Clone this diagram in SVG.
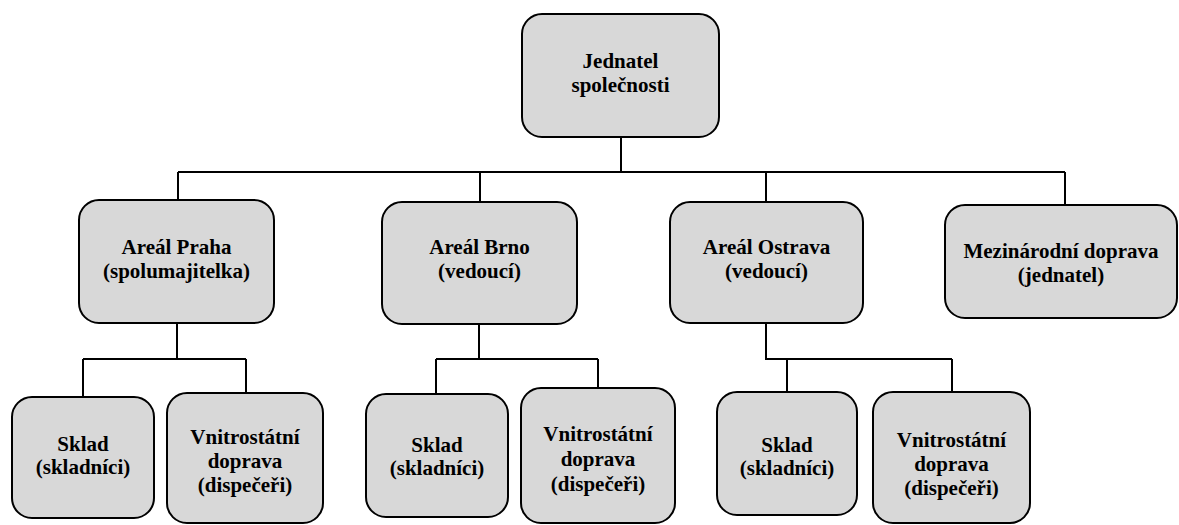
<svg xmlns="http://www.w3.org/2000/svg" width="1179" height="525" viewBox="0 0 1179 525">
<style>
.box{fill:#d8d8d8;stroke:#000;stroke-width:2}
.t{font-family:"Liberation Serif","Times New Roman",serif;font-weight:bold;font-size:21px;fill:#000;text-anchor:middle}
.c{fill:none;stroke:#000;stroke-width:2}
</style>
<rect width="1179" height="525" fill="#fff"/>
<g id="connectors">
<path class="c" d="M621 137V172M178 172H1065M178 172V200M480 172V202M766 172V202M1065 172V205"/>
<path class="c" d="M177 323V359M83 359H246M83 359V397M246 359V393"/>
<path class="c" d="M479 324V359M436 359H598M436 359V394M598 359V388"/>
<path class="c" d="M766 323V359H952M787 359V392M952 359V392"/>
</g>
<g id="jednatel">
<rect class="box" x="522" y="14" width="197" height="123" rx="20"/>
<text class="t" x="620.5" y="68">Jednatel</text>
<text class="t" x="620.5" y="92">společnosti</text>
</g>
<g id="praha">
<rect class="box" x="79" y="200" width="195" height="123" rx="20"/>
<text class="t" x="176.5" y="254">Areál Praha</text>
<text class="t" x="176.5" y="278">(spolumajitelka)</text>
</g>
<g id="brno">
<rect class="box" x="382" y="202" width="195" height="122" rx="20"/>
<text class="t" x="479.5" y="254">Areál Brno</text>
<text class="t" x="479.5" y="278">(vedoucí)</text>
</g>
<g id="ostrava">
<rect class="box" x="670" y="202" width="193" height="121" rx="20"/>
<text class="t" x="766.5" y="254">Areál Ostrava</text>
<text class="t" x="766.5" y="278">(vedoucí)</text>
</g>
<g id="mezinarodni">
<rect class="box" x="945" y="205" width="232" height="113" rx="20"/>
<text class="t" x="1061" y="258">Mezinárodní doprava</text>
<text class="t" x="1061" y="282">(jednatel)</text>
</g>
<g id="praha-sklad">
<rect class="box" x="12" y="397" width="142" height="121" rx="20"/>
<text class="t" x="83" y="451">Sklad</text>
<text class="t" x="83" y="474">(skladníci)</text>
</g>
<g id="praha-vnitro">
<rect class="box" x="167" y="393" width="156" height="130" rx="20"/>
<text class="t" x="245" y="444">Vnitrostátní</text>
<text class="t" x="245" y="468">doprava</text>
<text class="t" x="245" y="492">(dispečeři)</text>
</g>
<g id="brno-sklad">
<rect class="box" x="366" y="394" width="142" height="123" rx="20"/>
<text class="t" x="437" y="452">Sklad</text>
<text class="t" x="437" y="475">(skladníci)</text>
</g>
<g id="brno-vnitro">
<rect class="box" x="521" y="388" width="154" height="135" rx="20"/>
<text class="t" x="598" y="441">Vnitrostátní</text>
<text class="t" x="598" y="466">doprava</text>
<text class="t" x="598" y="491">(dispečeři)</text>
</g>
<g id="ostrava-sklad">
<rect class="box" x="717" y="392" width="140" height="123" rx="20"/>
<text class="t" x="787" y="452">Sklad</text>
<text class="t" x="787" y="475">(skladníci)</text>
</g>
<g id="ostrava-vnitro">
<rect class="box" x="873" y="392" width="157" height="131" rx="20"/>
<text class="t" x="951.5" y="447">Vnitrostátní</text>
<text class="t" x="951.5" y="471">doprava</text>
<text class="t" x="951.5" y="495">(dispečeři)</text>
</g>
</svg>
